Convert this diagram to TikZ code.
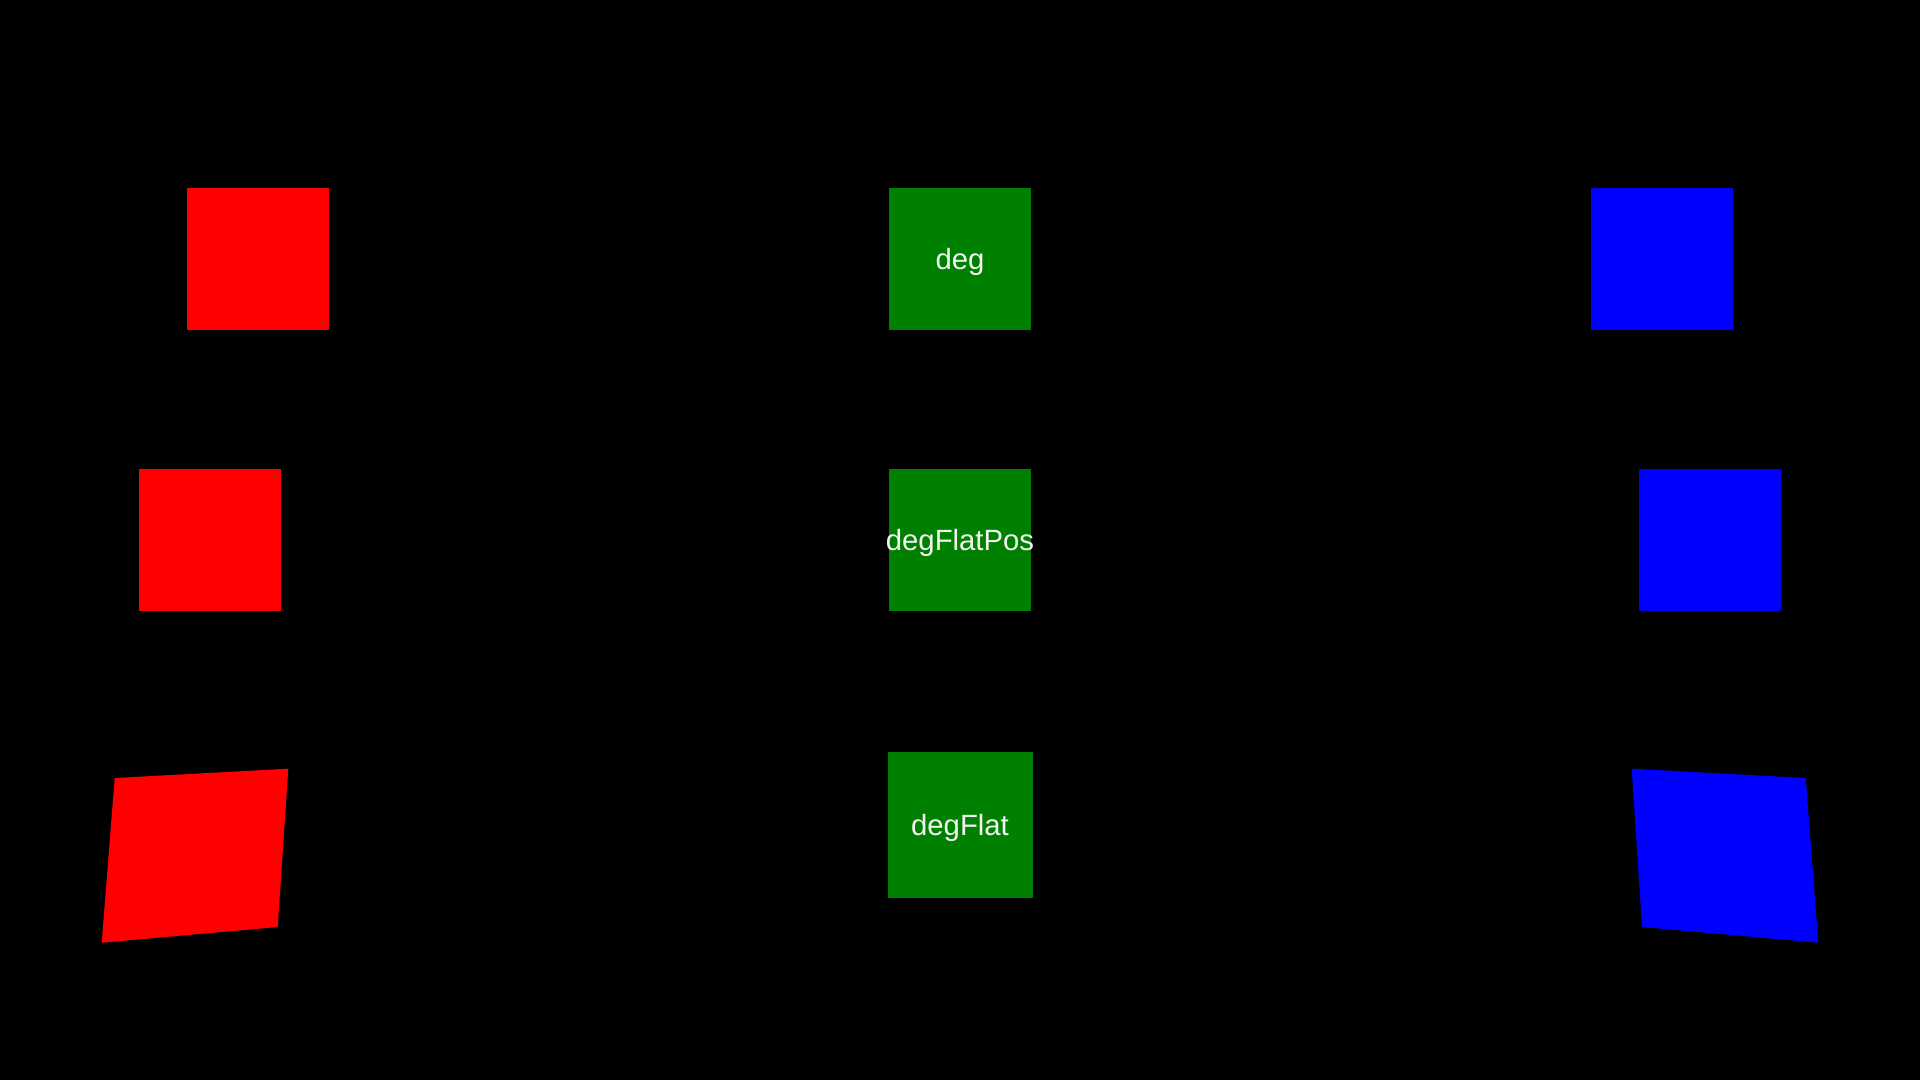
\documentclass[tikz,border=0pt]{standalone}
\usepackage{fontspec}
\setmainfont{Liberation Sans}
\definecolor{gr}{HTML}{008000}
\definecolor{txt}{HTML}{F2F2F2}
\newcommand{\boxtext}[1]{\smash{\raisebox{-10.5pt}{\makebox[0pt]{#1}}}}
\tikzset{
  sq/.style={minimum width=142pt, minimum height=142pt, inner sep=0pt, outer sep=0pt},
  redsq/.style={sq, fill=red},
  bluesq/.style={sq, fill=blue},
  greensq/.style={sq, fill=gr, text=txt, font=\fontsize{29.3}{31}\selectfont},
}
\begin{document}
\begin{tikzpicture}[x=1pt,y=-1pt]
\fill[black] (0,0) rectangle (1920,1080);
\useasboundingbox (0,0) rectangle (1920,1080);
% top row
\node[redsq] (r1) at (258,259) {};
\node[greensq] (g1) at (960,259) {\boxtext{deg}};
\node[bluesq] (b1) at (1662,259) {};
% middle row
\node[redsq] (r2) at (210,540) {};
\node[greensq] (g2) at (960,540) {\boxtext{degFlatPos}};
\node[bluesq] (b2) at (1710,540) {};
% bottom row
\fill[red] (114.7,778) -- (288.3,768.7) -- (277.7,927) -- (101.7,942.7) -- cycle;
\node[greensq, minimum width=145pt, minimum height=146pt] (g3) at (960,824.5) {\boxtext{degFlat}};
\fill[blue] (1631.7,768.7) -- (1805.7,778) -- (1818.3,942.7) -- (1642,927) -- cycle;
\end{tikzpicture}
\end{document}
